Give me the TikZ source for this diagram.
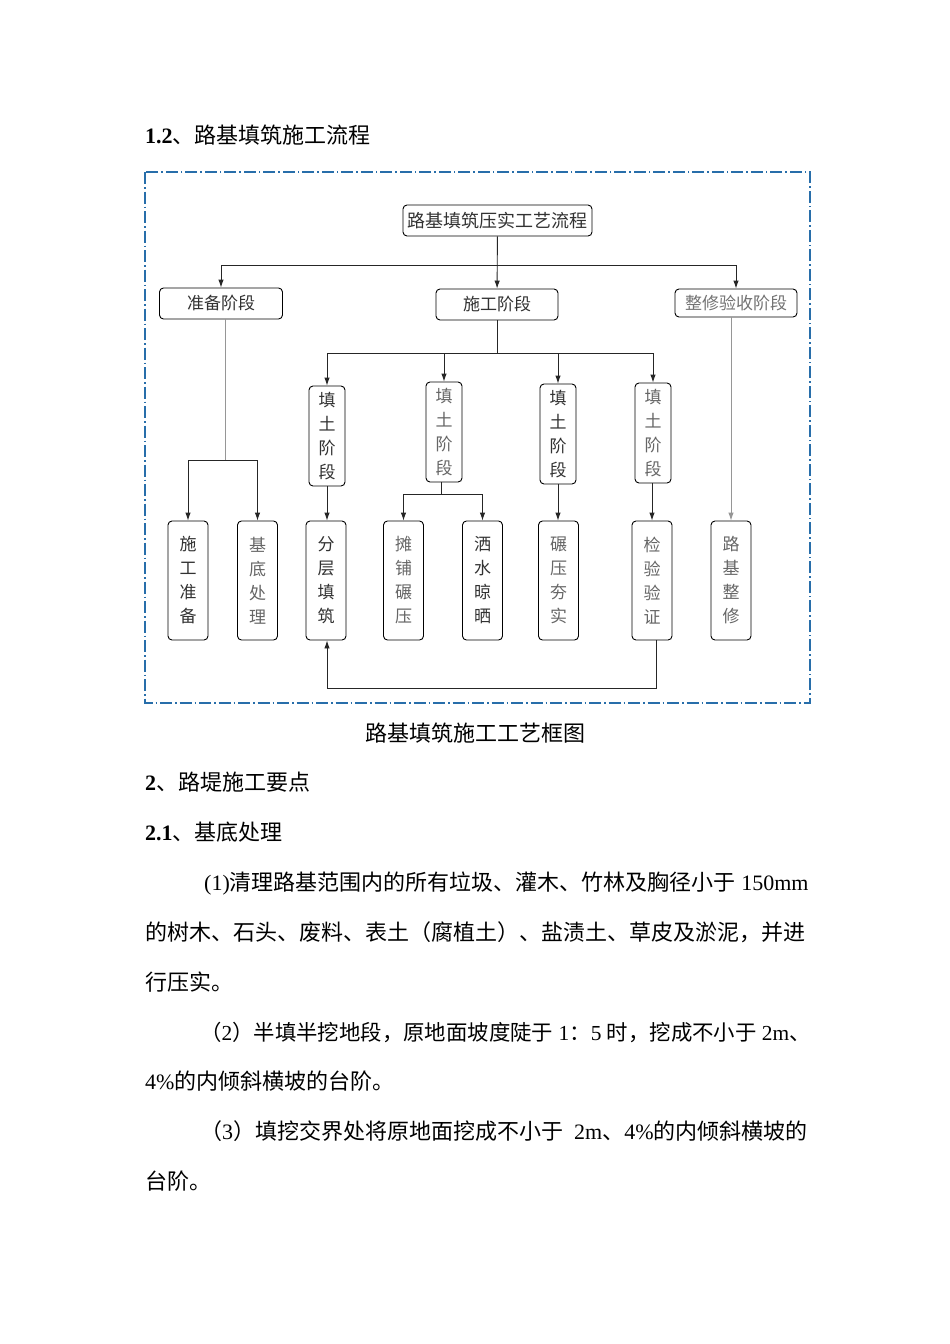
\documentclass[tikz,border=0pt]{standalone}
\usepackage{fontspec}
\setmainfont{Noto Sans CJK SC}
\newfontfamily\tnr{Liberation Serif}
\usetikzlibrary{arrows.meta}
\definecolor{framec}{RGB}{40,110,170}
\definecolor{txt}{RGB}{50,50,50}
\definecolor{lgray}{RGB}{150,150,150}
\tikzset{
  box/.style={draw=black, line width=0.9pt, rounded corners=4pt, inner sep=0pt, text=txt, font=\fontsize{17}{17}\selectfont},
  hbox/.style={box, minimum height=31pt},
  vbox/.style={box, minimum width=36pt, minimum height=100pt, align=center, font=\fontsize{17}{24}\selectfont},
  bbox/.style={box, minimum width=40pt, minimum height=119pt, align=center, font=\fontsize{17}{24}\selectfont},
  conn/.style={line width=0.9pt, draw=black!85},
  arr/.style={conn, -{Latex[length=8pt,width=5.5pt]}},
  para/.style={anchor=base west, inner sep=0pt, font=\fontsize{22}{22}\selectfont},
}
\begin{document}
\begin{tikzpicture}[x=1pt,y=-1pt]
\useasboundingbox (0,0) rectangle (950,1344);
\fill[white] (0,0) rectangle (950,1344);
% frame
\draw[framec, line width=1.1pt, dash pattern=on 12pt off 3pt on 1.5pt off 3pt] (145,172) rectangle (810,703);
% heading
\node[para] (h12) at (145,143) {{\tnr\bfseries 1.2}、路基填筑施工流程};
% top level
\node[hbox, minimum width=189pt, font=\fontsize{18}{18}\selectfont] (title) at (497.5,220.5) {路基填筑压实工艺流程};
\node[hbox, minimum width=123pt] (zb) at (221,303.5) {准备阶段};
\node[hbox, minimum width=122pt] (sg) at (497,304.5) {施工阶段};
\node[hbox, minimum width=122pt, minimum height=28pt, text=black!55] (zx) at (736,303) {整修验收阶段};
% fill stage boxes
\node[vbox] (t1) at (327,436) {填\\土\\阶\\段};
\node[vbox, text=black!60] (t2) at (444,432) {填\\土\\阶\\段};
\node[vbox] (t3) at (558,434) {填\\土\\阶\\段};
\node[vbox, text=black!60] (t4) at (653,433) {填\\土\\阶\\段};
% bottom boxes
\node[bbox] (b1) at (188,580.5) {施\\工\\准\\备};
\node[bbox, text=black!60] (b2) at (257.5,580.5) {基\\底\\处\\理};
\node[bbox] (b3) at (326,580.5) {分\\层\\填\\筑};
\node[bbox, text=black!60] (b4) at (403.5,580.5) {摊\\铺\\碾\\压};
\node[bbox] (b5) at (482.5,580.5) {洒\\水\\晾\\晒};
\node[bbox, text=black!60] (b6) at (558.5,580.5) {碾\\压\\夯\\实};
\node[bbox, text=black!60] (b7) at (652,580.5) {检\\验\\验\\证};
\node[bbox, text=black!60] (b8) at (731,580.5) {路\\基\\整\\修};
% connectors level 1
\coordinate (j1) at (497,265);
\draw[arr] (title) -- (sg);
\draw[arr] (j1) -| (zb);
\draw[arr] (j1) -| (zx);
% construction stage
\coordinate (j2) at (497,353);
\draw[conn] (sg) -- (j2);
\draw[arr] (j2) -| (t1);
\draw[arr] (j2) -| (t2);
\draw[arr] (j2) -| (t3);
\draw[arr] (j2) -| (t4);
% preparation
\coordinate (j3) at (225,460);
\draw[lgray, line width=0.9pt] (zb.south -| j3) -- (j3);
\draw[arr] (j3) -| (b1);
\draw[arr] (j3) -| (b2);
% fill stages to steps
\draw[arr] (t1) -- (t1 |- b3.north);
\coordinate (j4) at (441,494);
\draw[conn] (t2.south -| j4) -- (j4);
\draw[arr] (j4) -| (b4);
\draw[arr] (j4) -| (b5);
\draw[arr] (t3) -- (t3 |- b6.north);
\draw[arr] (t4.south -| b7) -- (b7);
% finishing
\draw[lgray, line width=0.9pt, -{Latex[length=8pt,width=5.5pt]}] (zx.south -| b8) -- (b8);
% loop
\coordinate (l1) at (656,688);
\coordinate (l2) at (327,688);
\draw[arr] (b7.south -| l1) -- (l1) -- (l2) -- (b3.south -| l2);
% caption and text
\node[anchor=base, inner sep=0pt, font=\fontsize{22}{22}\selectfont] (cap) at (475,741) {路基填筑施工工艺框图};
\node[para] (s2) at (145,790) {{\tnr\bfseries 2}、路堤施工要点};
\node[para] (s21) at (145,840) {{\tnr\bfseries 2.1}、基底处理};
\node[para] (p1) at (200,890) {\hspace{4pt}{\tnr(1)}清理路基范围内的所有垃圾、灌木、竹林及胸径小于{\tnr\ 150mm}};
\node[para] (p2) at (145,940) {的树木、石头、废料、表土（腐植土）、盐渍土、草皮及淤泥，并进};
\node[para] (p3) at (145,990) {行压实。};
\node[para, font=\fontsize{21.4}{22}\selectfont] (p4) at (200,1040) {（{\tnr 2}）半填半挖地段，原地面坡度陡于{\tnr\ 1}：{\tnr 5 }时，挖成不小于{\tnr\ 2m}、};
\node[para] (p5) at (145,1089) {{\tnr 4\%}的内倾斜横坡的台阶。};
\node[para] (p6) at (200,1139) {（{\tnr 3}）填挖交界处将原地面挖成不小于{\tnr\ \ 2m}、{\tnr 4\%}的内倾斜横坡的};
\node[para] (p7) at (145,1189) {台阶。};
\end{tikzpicture}
\end{document}
